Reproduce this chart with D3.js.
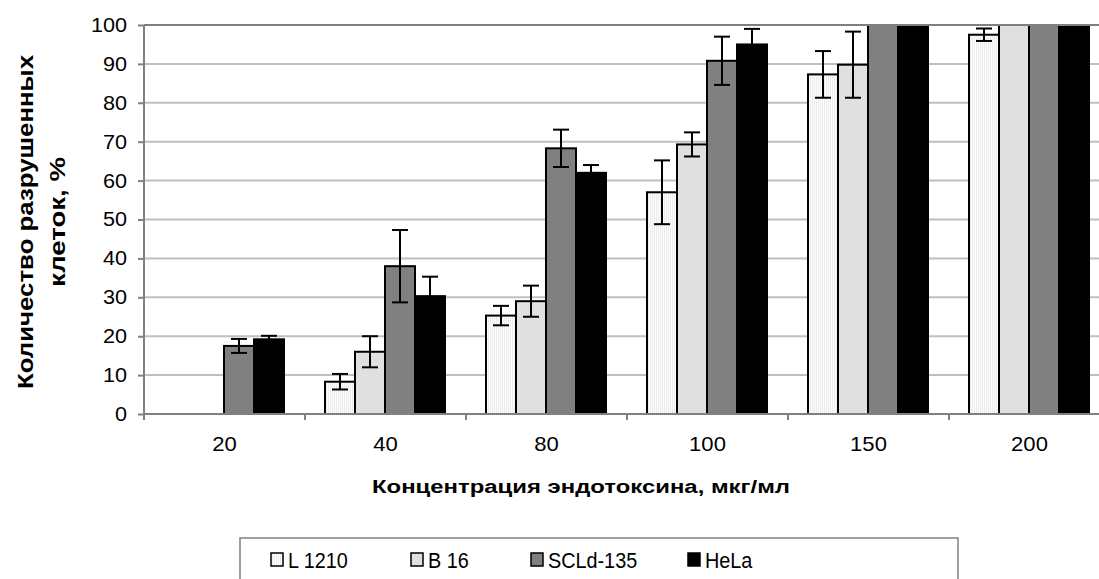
<!DOCTYPE html>
<html>
<head>
<meta charset="utf-8">
<script src="https://cdn.jsdelivr.net/npm/d3@7"></script>
<style>
  body { margin: 0; background: #fff; }
  svg { display: block; font-family: 'Liberation Sans', Arial, sans-serif; }
</style>
</head>
<body>
<svg id="chart" width="1099" height="579"></svg>
<script>
const categories = ['20', '40', '80', '100', '150', '200'];
const seriesNames = ['L 1210', 'B 16', 'SCLd-135', 'HeLa'];
const l1210 = [0, 8.3, 25.3, 57, 87.3, 97.5];
const l1210Err = [0, 2, 2.5, 8.2, 6, 1.6];
const b16 = [0, 16, 29, 69.3, 89.8, 100];
const b16Err = [0, 4, 4, 3.1, 8.5, 0];
const scld = [17.5, 38, 68.3, 90.8, 100, 100];
const scldErr = [1.8, 9.3, 4.8, 6.2, 0, 0];
const hela = [19.2, 30.3, 62, 95, 100, 100];
const helaErr = [0.9, 5, 2, 4, 0, 0];
const yTicks = [0, 10, 20, 30, 40, 50, 60, 70, 80, 90, 100];

const values = [l1210, b16, scld, hela];
const errors = [l1210Err, b16Err, scldErr, helaErr];
const fills = ['url(#vlines)', '#e0e0e0', '#808080', '#000000'];

const svg = d3.select('#chart');

// stretch / squeeze a text element along its run
const stretch = (sel, k) => sel.each(function fit() {
  const len = this.getComputedTextLength();
  d3.select(this).attr('textLength', len * k).attr('lengthAdjust', 'spacingAndGlyphs');
});

// light vertical-line hatch used by the L 1210 bars
const pat = svg.append('defs').append('pattern')
  .attr('id', 'vlines')
  .attr('patternUnits', 'userSpaceOnUse')
  .attr('width', 2).attr('height', 4);
pat.append('rect').attr('width', 2).attr('height', 4).attr('fill', '#fdfdfd');
pat.append('rect').attr('width', 1).attr('height', 4).attr('fill', '#ececec');

const plotLeft = 144;
const plotRight = 1110;
const plotTop = 25;
const plotBottom = 414;

const x0 = d3.scaleBand().domain(categories).range([plotLeft, plotRight]).padding(0);
const x1 = d3.scaleBand().domain(d3.range(seriesNames.length)).range([20, 140]).padding(0);
const y = d3.scaleLinear().domain([0, 100]).range([plotBottom, plotTop]);

// gridlines
svg.append('g')
  .selectAll('line')
  .data(yTicks.filter(t => t > 0 && t < 100))
  .join('line')
  .attr('x1', plotLeft).attr('x2', plotRight)
  .attr('y1', d => y(d)).attr('y2', d => y(d))
  .attr('stroke', '#c0c0c0')
  .attr('stroke-width', 2);

// bars
const rows = [];
categories.forEach((c, i) => {
  seriesNames.forEach((s, j) => {
    rows.push({ c, j, v: values[j][i], e: errors[j][i] });
  });
});

svg.append('g')
  .selectAll('rect')
  .data(rows.filter(d => d.v > 0))
  .join('rect')
  .attr('x', d => x0(d.c) + x1(d.j))
  .attr('y', d => y(d.v))
  .attr('width', x1.bandwidth())
  .attr('height', d => y(0) - y(d.v))
  .attr('fill', d => fills[d.j])
  .attr('stroke', '#000')
  .attr('stroke-width', 2);

// error bars
const errG = svg.append('g')
  .attr('stroke', '#000')
  .attr('stroke-width', 2);
rows.filter(d => d.e > 0).forEach((d) => {
  const cx = x0(d.c) + x1(d.j) + x1.bandwidth() / 2;
  const yHi = y(d.v + d.e);
  const yLo = y(d.v - d.e);
  errG.append('line').attr('x1', cx).attr('x2', cx).attr('y1', yHi).attr('y2', yLo);
  errG.append('line').attr('x1', cx - 8).attr('x2', cx + 8).attr('y1', yHi).attr('y2', yHi);
  errG.append('line').attr('x1', cx - 8).attr('x2', cx + 8).attr('y1', yLo).attr('y2', yLo);
});

// frame: top border, left axis, bottom axis
svg.append('line')
  .attr('x1', plotLeft).attr('x2', plotRight).attr('y1', plotTop).attr('y2', plotTop)
  .attr('stroke', '#808080').attr('stroke-width', 2);

const yAxis = svg.append('g')
  .attr('transform', `translate(${plotLeft},0)`)
  .call(d3.axisLeft(y).tickValues(yTicks).tickSize(6).tickPadding(11));
yAxis.select('.domain').attr('stroke', '#808080').attr('stroke-width', 2)
  .attr('d', `M0,${plotTop}V${plotBottom}`);
yAxis.selectAll('.tick line').attr('stroke', '#808080').attr('stroke-width', 2);
yAxis.selectAll('.tick text')
  .attr('font-size', 20)
  .attr('fill', '#000')
  .attr('font-family', "'Liberation Sans', Arial, sans-serif")
  .call(stretch, 1.08);

const xAxis = svg.append('g')
  .attr('transform', `translate(0,${plotBottom})`)
  .call(d3.axisBottom(x0).tickSize(0).tickPadding(22));
xAxis.select('.domain').attr('stroke', '#808080').attr('stroke-width', 2)
  .attr('d', `M${plotLeft},0H${plotRight}`);
xAxis.selectAll('.tick text')
  .attr('font-size', 21)
  .attr('fill', '#000')
  .attr('font-family', "'Liberation Sans', Arial, sans-serif")
  .call(stretch, 1.05);

// category separator ticks below the axis
svg.append('g')
  .selectAll('line')
  .data(categories.map(c => x0(c)).concat([plotRight]))
  .join('line')
  .attr('x1', d => d).attr('x2', d => d)
  .attr('y1', plotBottom).attr('y2', plotBottom + 6)
  .attr('stroke', '#808080').attr('stroke-width', 2);

// axis titles
const yTitle = svg.append('g').attr('transform', 'translate(0,222) rotate(-90)');
yTitle.append('text')
  .attr('x', 0).attr('y', 33)
  .attr('text-anchor', 'middle')
  .attr('font-weight', 'bold')
  .attr('font-size', 22)
  .attr('textLength', 334).attr('lengthAdjust', 'spacingAndGlyphs')
  .text('Количество разрушенных');
yTitle.append('text')
  .attr('x', 0).attr('y', 65)
  .attr('text-anchor', 'middle')
  .attr('font-weight', 'bold')
  .attr('font-size', 22)
  .attr('textLength', 130).attr('lengthAdjust', 'spacingAndGlyphs')
  .text('клеток, %');

svg.append('text')
  .attr('x', 581).attr('y', 493)
  .attr('text-anchor', 'middle')
  .attr('font-weight', 'bold')
  .attr('font-size', 18)
  .attr('textLength', 418).attr('lengthAdjust', 'spacingAndGlyphs')
  .text('Концентрация эндотоксина, мкг/мл');

// legend
const legend = svg.append('g');
legend.append('rect')
  .attr('x', 240).attr('y', 538).attr('width', 718).attr('height', 60)
  .attr('fill', '#fff').attr('stroke', '#808080').attr('stroke-width', 1.5);
const legendX = [270, 410, 530, 687];
seriesNames.forEach((s, j) => {
  legend.append('rect')
    .attr('x', legendX[j] + 1).attr('y', 553)
    .attr('width', 12).attr('height', 13)
    .attr('fill', fills[j]).attr('stroke', '#000').attr('stroke-width', 1.5);
  legend.append('text')
    .attr('x', legendX[j] + 18).attr('y', 568)
    .attr('font-size', 22)
    .text(s)
    .call(stretch, 0.9);
});
</script>
</body>
</html>
